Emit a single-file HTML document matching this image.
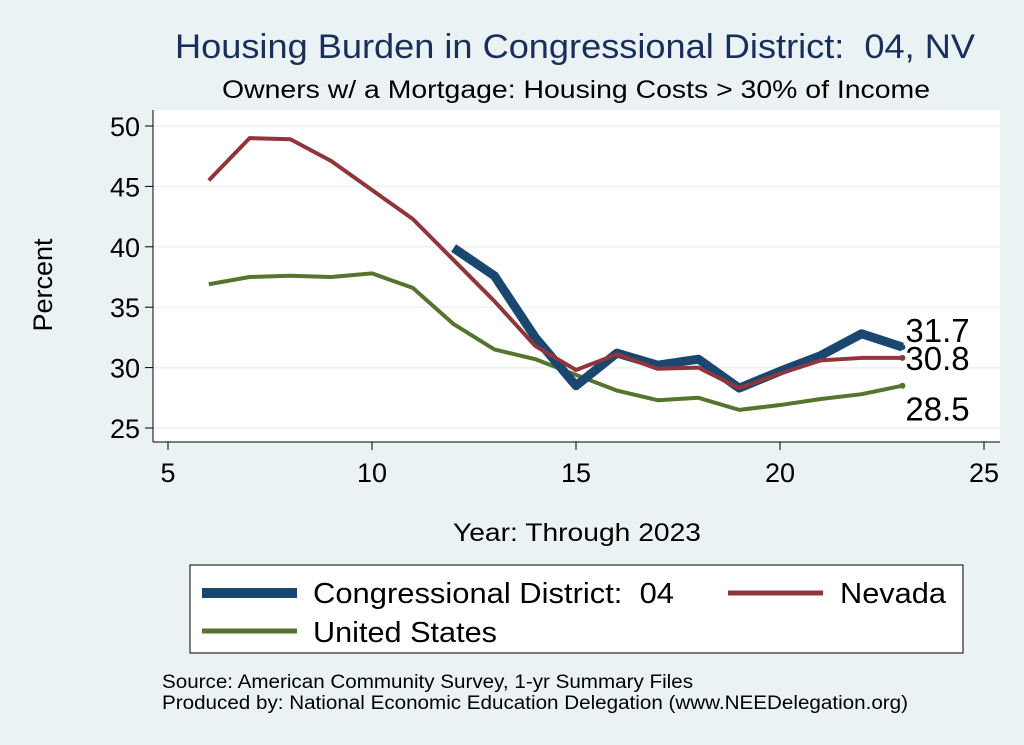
<!DOCTYPE html>
<html><head><meta charset="utf-8"><style>
body{margin:0;background:#eaf2f3;}
svg{display:block;font-family:"Liberation Sans",sans-serif;}
</style></head><body>
<svg id="c" width="1024" height="745">
<rect x="0" y="0" width="1024" height="745" fill="#eaf2f3"/>
<text x="175" y="58" font-size="34" fill="#1a2e5a" textLength="800" lengthAdjust="spacingAndGlyphs" xml:space="preserve">Housing Burden in Congressional District:  04, NV</text>
<text x="222" y="98" font-size="25" fill="#000" textLength="708" lengthAdjust="spacingAndGlyphs">Owners w/ a Mortgage: Housing Costs &gt; 30% of Income</text>
<rect x="153" y="110" width="847" height="332" fill="#fff"/>
<g id="grid"></g>
<line x1="153" y1="110" x2="153" y2="442" stroke="#000"/>
<line x1="153" y1="442" x2="1000" y2="442" stroke="#000"/>
<g id="ticks"></g>
<g id="series"></g>
<text x="52" y="285" text-anchor="middle" font-size="27" transform="rotate(-90 52 285)">Percent</text>
<text x="453" y="541" font-size="25" textLength="248" lengthAdjust="spacingAndGlyphs">Year: Through 2023</text>
<rect x="190" y="565" width="773" height="88" fill="#fff" stroke="#000"/>
<g><line x1="202" y1="593" x2="297" y2="593" stroke="#1a476f" stroke-width="10"/><text x="313" y="603" font-size="29" textLength="361" lengthAdjust="spacingAndGlyphs" xml:space="preserve">Congressional District:  04</text></g>
<g><line x1="728" y1="593" x2="823" y2="593" stroke="#90353b" stroke-width="5"/><text x="840" y="603" font-size="29" textLength="106" lengthAdjust="spacingAndGlyphs">Nevada</text></g>
<g><line x1="202" y1="631" x2="297" y2="631" stroke="#55752f" stroke-width="5"/><text x="313" y="642" font-size="29" textLength="184" lengthAdjust="spacingAndGlyphs">United States</text></g>
<text x="162" y="688" font-size="19" textLength="531" lengthAdjust="spacingAndGlyphs">Source: American Community Survey, 1-yr Summary Files</text>
<text x="162" y="709" font-size="19" textLength="746" lengthAdjust="spacingAndGlyphs">Produced by: National Economic Education Delegation (www.NEEDelegation.org)</text>
</svg>
<script>
const xTicks=[5,10,15,20,25];
const yTicks=[25,30,35,40,45,50];
const cdYears=[12,13,14,15,16,17,18,19,20,21,22,23];
const cdValues=[39.9,37.6,32.5,28.5,31.2,30.2,30.7,28.3,29.7,31.0,32.8,31.7];
const nvYears=[6,7,8,9,10,11,12,13,14,15,16,17,18,19,20,21,22,23];
const nvValues=[45.5,49.0,48.9,47.1,44.7,42.3,38.9,35.5,31.8,29.8,31.1,29.9,30.0,28.3,29.5,30.6,30.8,30.8];
const usYears=[6,7,8,9,10,11,12,13,14,15,16,17,18,19,20,21,22,23];
const usValues=[36.9,37.5,37.6,37.5,37.8,36.6,33.6,31.5,30.7,29.4,28.1,27.3,27.5,26.5,26.9,27.4,27.8,28.5];
const NS='http://www.w3.org/2000/svg';
const X=v=>168+(v-5)*40.8;
const Y=v=>428-(v-25)*12.08;
function mk(t,a,p){const e=document.createElementNS(NS,t);for(const k in a)e.setAttribute(k,a[k]);p.appendChild(e);return e;}
const grid=document.getElementById('grid'),ticks=document.getElementById('ticks'),ser=document.getElementById('series');
yTicks.forEach(v=>{
 const g=mk('line',{x1:153,x2:1000,y1:Y(v),y2:Y(v),stroke:'#eaf2f3','stroke-width':1.5},grid);
 
 
 const t=mk('line',{x1:145,x2:153,y1:Y(v),y2:Y(v),stroke:'#000'},ticks);
 
 
 const l=mk('text',{x:140,y:Y(v)+10,'text-anchor':'end','font-size':27},ticks);l.textContent=v;
 
 
});
xTicks.forEach(v=>{
 const t=mk('line',{x1:X(v),x2:X(v),y1:442,y2:450,stroke:'#000'},ticks);
 
 
 const l=mk('text',{x:X(v),y:482,'text-anchor':'middle','font-size':27},ticks);l.textContent=v;
 
 
});
function line(xs,ys,col,w,name,ly){
 const p=mk('polyline',{points:xs.map((x,i)=>X(x)+','+Y(ys[i])).join(' '),fill:'none',stroke:col,'stroke-width':w,'stroke-linejoin':'round'},ser);
 
 
 const n=xs.length-1;
 const d=mk('circle',{cx:X(xs[n]),cy:Y(ys[n]),r:3,fill:col},ser);
 
 
 const t=mk('text',{x:X(xs[n])+3,y:Y(ys[n])+ly,'font-size':33},ser);t.textContent=ys[n].toFixed(1);
 
 
}
line(usYears,usValues,'#55752f',4,'us-line',35);
line(cdYears,cdValues,'#1a476f',9,'cd04-line',-5);
line(nvYears,nvValues,'#90353b',4,'nevada-line',12);
</script>
</body></html>
